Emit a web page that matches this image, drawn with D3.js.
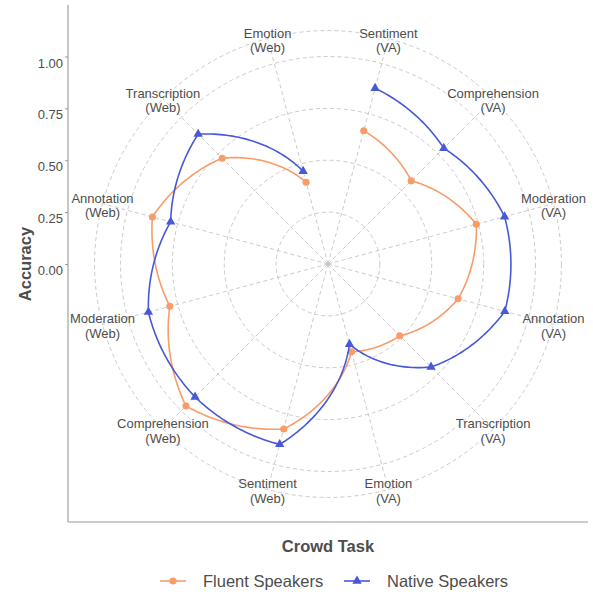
<!DOCTYPE html>
<html>
<head>
<meta charset="utf-8">
<script src="https://cdn.jsdelivr.net/npm/d3@7"></script>
<style>
  body { margin: 0; background: #fff; }
  text { font-family: "Liberation Sans", Arial, sans-serif; }
</style>
</head>
<body>
<div id="chart"></div>
<script>
const width = 593;
const height = 594;

// crowd tasks, clockwise from the top
const tasks = [
  'Sentiment (VA)', 'Comprehension (VA)', 'Moderation (VA)', 'Annotation (VA)',
  'Transcription (VA)', 'Emotion (VA)', 'Sentiment (Web)', 'Comprehension (Web)',
  'Moderation (Web)', 'Annotation (Web)', 'Transcription (Web)', 'Emotion (Web)'
];
const fluent = [0.665, 0.567, 0.74, 0.649, 0.489, 0.438, 0.823, 0.968, 0.789, 0.876, 0.721, 0.408];
const native = [0.877, 0.789, 0.881, 0.882, 0.702, 0.40, 0.90, 0.906, 0.896, 0.785, 0.885, 0.463];
const radialTicks = [0, 0.25, 0.5, 0.75, 1];

const series = [
  { name: 'Fluent Speakers', values: fluent, color: '#F89C6A', shape: d3.symbolCircle, size: 40 },
  { name: 'Native Speakers', values: native, color: '#4858D6', shape: d3.symbolTriangle, size: 38 }
];

const panel = { left: 68, top: 5, bottom: 522, right: 588 };
const cx = 328;
const cy = 264;
const rMax = 207.5;          // radius of 1.00
const rOuter = rMax * 0.45 / 0.4;

const gridColor = '#c4c4c4';
const textColor = '#4d4d4d';

const svg = d3.select('#chart')
  .append('svg')
  .attr('width', width)
  .attr('height', height);

const rScale = d3.scaleLinear().domain([0, 1]).range([0, rMax]);
const thetaScale = d3.scaleBand().domain(tasks).range([0, 2 * Math.PI]);
const theta = t => thetaScale(t) + thetaScale.bandwidth() / 2;

const polarG = svg.append('g').attr('transform', `translate(${cx}, ${cy})`);

// circular grid, plus the outer ring
polarG.selectAll('.ring')
  .data(radialTicks.concat([0.45 / 0.4]))
  .enter()
  .append('circle')
  .attr('r', d => Math.max(rScale(d), 1.2))
  .attr('fill', d => d === 0 ? gridColor : 'none')
  .attr('stroke', gridColor)
  .attr('stroke-width', 0.9)
  .attr('stroke-dasharray', d => d === 0 ? null : '4,3');

// spokes
polarG.selectAll('.spoke')
  .data(tasks)
  .enter()
  .append('line')
  .attr('x1', 0)
  .attr('y1', 0)
  .attr('x2', d => rOuter * Math.sin(theta(d)))
  .attr('y2', d => -rOuter * Math.cos(theta(d)))
  .attr('stroke', gridColor)
  .attr('stroke-width', 0.9)
  .attr('stroke-dasharray', '4,3');

// category labels, two lines each
const labelG = polarG.selectAll('.catLabel')
  .data(tasks)
  .enter()
  .append('text')
  .attr('fill', textColor)
  .attr('font-size', 13)
  .attr('text-anchor', 'middle')
  .attr('transform', d => `translate(${rOuter * Math.sin(theta(d))}, ${-rOuter * Math.cos(theta(d))})`);
labelG.each(function (d) {
  const parts = d.split(' ');
  const t = d3.select(this);
  t.append('tspan').attr('x', 0).attr('y', -1).text(parts[0]);
  t.append('tspan').attr('x', 0).attr('y', 13.5).text(parts[1]);
});

// lines drawn in polar space (angle and radius vary linearly between tasks)
const radialLine = d3.lineRadial()
  .angle(d => d[0])
  .radius(d => d[1]);

function polarPath(values) {
  const pts = [];
  const steps = 40;
  for (let i = 0; i < tasks.length - 1; i++) {
    const a1 = theta(tasks[i]), a2 = theta(tasks[i + 1]);
    const r1 = rScale(values[i]), r2 = rScale(values[i + 1]);
    for (let s = 0; s < steps; s++) {
      const k = s / steps;
      pts.push([a1 + (a2 - a1) * k, r1 + (r2 - r1) * k]);
    }
  }
  const last = tasks.length - 1;
  pts.push([theta(tasks[last]), rScale(values[last])]);
  return radialLine(pts);
}

series.forEach(s => {
  polarG.append('path')
    .attr('d', polarPath(s.values))
    .attr('fill', 'none')
    .attr('stroke', s.color)
    .attr('stroke-width', 1.6);

  polarG.selectAll(null)
    .data(s.values)
    .enter()
    .append('path')
    .attr('d', d3.symbol(s.shape, s.size))
    .attr('fill', s.color)
    .attr('transform', (v, i) => {
      const a = theta(tasks[i]);
      return `translate(${rScale(v) * Math.sin(a)}, ${-rScale(v) * Math.cos(a)})`;
    });
});

// radial axis on the left side of the panel
const yScale = d3.scaleLinear().domain([0, 1]).range([cy, cy - rMax]);
const yAxis = d3.axisLeft(yScale)
  .tickValues(radialTicks)
  .tickFormat(d3.format('.2f'))
  .tickSize(3)
  .tickSizeOuter(0);
const yAxisG = svg.append('g')
  .attr('transform', `translate(${panel.left}, 0)`)
  .call(yAxis);
yAxisG.select('.domain').remove();
yAxisG.selectAll('.tick line').attr('stroke', '#999');
// labels sit a little below their ticks, as in the original
yAxisG.selectAll('.tick text')
  .attr('fill', textColor)
  .attr('font-size', 13)
  .attr('x', -5)
  .attr('y', 6)
  .attr('dy', '0.35em')
  .style('font-family', '"Liberation Sans", Arial, sans-serif');

// panel edges
svg.append('line')
  .attr('x1', panel.left).attr('x2', panel.left)
  .attr('y1', panel.top).attr('y2', panel.bottom)
  .attr('stroke', '#999').attr('stroke-width', 1.1);
svg.append('line')
  .attr('x1', panel.left).attr('x2', panel.right)
  .attr('y1', panel.bottom).attr('y2', panel.bottom)
  .attr('stroke', '#999').attr('stroke-width', 1.1);

// axis titles
svg.append('text')
  .attr('transform', `translate(31, ${cy}) rotate(-90)`)
  .attr('text-anchor', 'middle')
  .attr('font-size', 16.5)
  .attr('font-weight', 'bold')
  .attr('fill', textColor)
  .text('Accuracy');

svg.append('text')
  .attr('x', cx)
  .attr('y', 552)
  .attr('text-anchor', 'middle')
  .attr('font-size', 16.5)
  .attr('font-weight', 'bold')
  .attr('fill', textColor)
  .text('Crowd Task');

// legend
const legendX = [160, 344];
const legendY = 581;
series.forEach((s, i) => {
  const g = svg.append('g').attr('transform', `translate(${legendX[i]}, ${legendY})`);
  g.append('line')
    .attr('x1', 0).attr('x2', 26)
    .attr('stroke', s.color)
    .attr('stroke-width', 1.6);
  g.append('path')
    .attr('d', d3.symbol(s.shape, s.size))
    .attr('fill', s.color)
    .attr('transform', 'translate(13, 0)');
  g.append('text')
    .attr('x', 43)
    .attr('y', 6)
    .attr('font-size', 16.5)
    .attr('fill', textColor)
    .text(s.name);
});
</script>
</body>
</html>
